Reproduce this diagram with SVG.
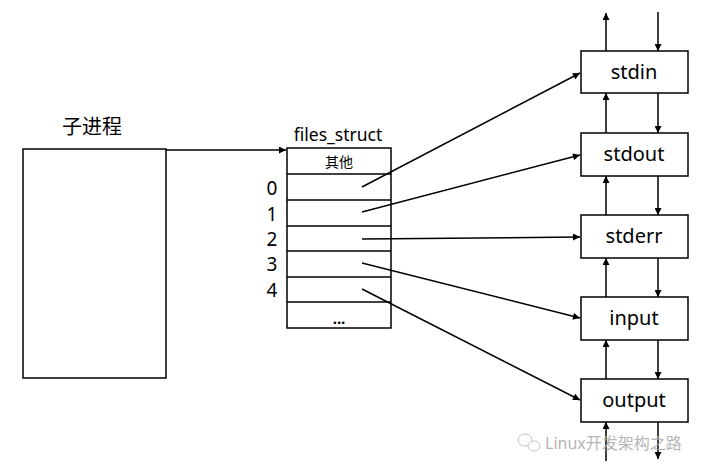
<svg xmlns="http://www.w3.org/2000/svg" width="720" height="476" viewBox="0 0 720 476">
<defs>
<marker id="ah" viewBox="0 0 10 10" refX="10" refY="5" markerWidth="8" markerHeight="7" markerUnits="userSpaceOnUse" orient="auto">
<path d="M0,0 L10,5 L0,10 z" fill="#000"/>
</marker>
</defs>
<style>
.box{fill:#fff;stroke:#000;stroke-width:1.5}
.ln{fill:none;stroke:#000;stroke-width:1.5}
.arr{fill:none;stroke:#000;stroke-width:1.5;marker-end:url(#ah)}
.t{font-family:"Noto Sans","Noto Sans CJK SC",sans-serif;fill:#000}
.lbl{font-size:20px;text-anchor:middle}
.cjk{font-family:"Noto Sans CJK SC",sans-serif;fill:#000}
</style>
<rect width="720" height="476" fill="#fff"/>
<g id="child">
<rect class="box" x="23" y="149" width="143" height="229"/>
<text class="cjk" x="92" y="134" font-size="20" text-anchor="middle">子进程</text>
</g>
<g id="files_struct">
<text class="t" x="338" y="141" font-size="17.5" text-anchor="middle">files_struct</text>
<rect class="box" x="287" y="148" width="104" height="180"/>
<line class="ln" x1="287" y1="174" x2="391" y2="174"/>
<line class="ln" x1="287" y1="200" x2="391" y2="200"/>
<line class="ln" x1="287" y1="226" x2="391" y2="226"/>
<line class="ln" x1="287" y1="251" x2="391" y2="251"/>
<line class="ln" x1="287" y1="277" x2="391" y2="277"/>
<line class="ln" x1="287" y1="302" x2="391" y2="302"/>
<text class="cjk" x="339" y="167" font-size="14" text-anchor="middle">其他</text>
<text class="t" x="339" y="324" font-size="15" font-weight="bold" text-anchor="middle">...</text>
<text class="t" x="272" y="195" font-size="19" text-anchor="middle">0</text>
<text class="t" x="272" y="221" font-size="19" text-anchor="middle">1</text>
<text class="t" x="272" y="246" font-size="19" text-anchor="middle">2</text>
<text class="t" x="272" y="271" font-size="19" text-anchor="middle">3</text>
<text class="t" x="272" y="297" font-size="19" text-anchor="middle">4</text>
</g>
<g id="stdin"><rect class="box" x="581" y="51" width="107" height="42"/><text class="t lbl" x="634" y="79">stdin</text></g>
<g id="stdout"><rect class="box" x="581" y="133" width="107" height="43"/><text class="t lbl" x="634" y="161">stdout</text></g>
<g id="stderr"><rect class="box" x="581" y="215" width="107" height="43"/><text class="t lbl" x="634" y="243">stderr</text></g>
<g id="input"><rect class="box" x="581" y="297" width="107" height="43"/><text class="t lbl" x="634" y="325">input</text></g>
<g id="output"><rect class="box" x="581" y="379" width="107" height="43"/><text class="t lbl" x="634" y="407">output</text></g>
<g id="connectors">
<line class="arr" x1="166" y1="150" x2="286" y2="150"/>
<line class="arr" x1="362" y1="187" x2="580" y2="73"/>
<line class="arr" x1="362" y1="212" x2="580" y2="155"/>
<line class="arr" x1="362" y1="239" x2="580" y2="237"/>
<line class="arr" x1="362" y1="263" x2="580" y2="318"/>
<line class="arr" x1="362" y1="289" x2="580" y2="400"/>
<line class="arr" x1="606" y1="51" x2="606" y2="13"/>
<line class="arr" x1="658" y1="12" x2="658" y2="51"/>
<line class="arr" x1="606" y1="133" x2="606" y2="93"/>
<line class="arr" x1="658" y1="93" x2="658" y2="133"/>
<line class="arr" x1="606" y1="215" x2="606" y2="176"/>
<line class="arr" x1="658" y1="176" x2="658" y2="215"/>
<line class="arr" x1="606" y1="297" x2="606" y2="258"/>
<line class="arr" x1="658" y1="258" x2="658" y2="297"/>
<line class="arr" x1="606" y1="379" x2="606" y2="340"/>
<line class="arr" x1="658" y1="340" x2="658" y2="379"/>
<line class="arr" x1="606" y1="461" x2="606" y2="422"/>
<line class="arr" x1="658" y1="422" x2="658" y2="459"/>
</g>
<g id="watermark" opacity="0.85">
<ellipse cx="525" cy="440" rx="7" ry="6" fill="none" stroke="#bbb" stroke-width="1"/>
<ellipse cx="534" cy="446" rx="6" ry="5" fill="#fff" stroke="#bbb" stroke-width="1"/>
<text x="545" y="449" font-family="Noto Sans,Noto Sans CJK SC,sans-serif" font-size="16" fill="#aaa">Linux开发架构之路</text>
</g>
</svg>
